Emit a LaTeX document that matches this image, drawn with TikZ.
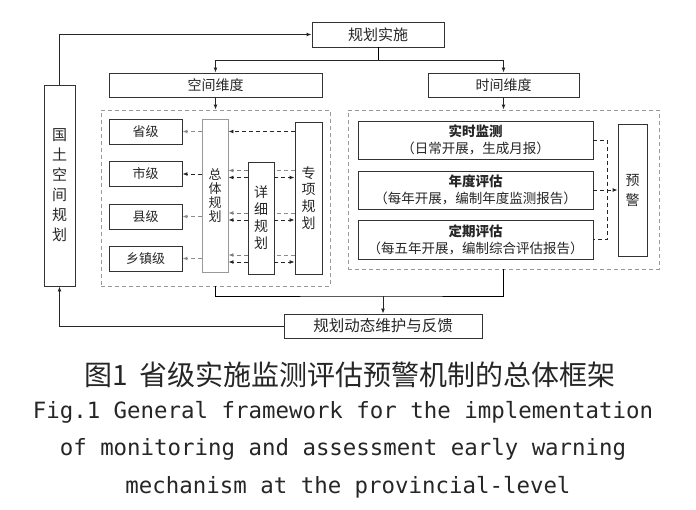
\documentclass[tikz,border=0pt]{standalone}
\usepackage{fontspec}
\newfontfamily\zhfont{Noto Sans CJK SC}
\newfontfamily\enmono{DejaVu Sans Mono}
\usetikzlibrary{arrows.meta,calc}

\begin{document}
\begin{tikzpicture}[x=1pt,y=-1pt,line width=0.9pt,
    plainbox/.style={draw=black!80, fill=white, inner sep=0pt, align=center,
        text=black!85, font=\zhfont\fontsize{14}{16}\selectfont},
    lvbox/.style={plainbox, minimum width=73, minimum height=25, font=\zhfont\fontsize{13}{15}\selectfont},
    tbox/.style={plainbox, minimum width=235, minimum height=38, font=\zhfont\fontsize{13.5}{17}\selectfont},
    dashframe/.style={draw=black!40, dash pattern=on 4pt off 3pt},
    arr/.style={-{Latex[length=5pt,width=4pt]}, draw=black!85},
    darr/.style={arr, dash pattern=on 4pt off 3pt},
    dline/.style={draw=black!85, dash pattern=on 4pt off 3pt},
]
\useasboundingbox (0,0) rectangle (696,509);

% Top and outer boxes
\node[plainbox, minimum width=132, minimum height=25, font=\zhfont\fontsize{15}{17}\selectfont] (impl) at (378,34.5) {规划实施};
\node[plainbox, minimum width=213, minimum height=24] (spatial) at (215.5,85) {空间维度};
\node[plainbox, minimum width=151, minimum height=24] (temporal) at (503.5,85) {时间维度};
\node[plainbox, minimum width=31, minimum height=201, font=\zhfont\fontsize{15}{20}\selectfont] (plan) at (59.5,185.5) {国\\土\\空\\间\\规\\划};
\node[plainbox, minimum width=198, minimum height=24, font=\zhfont\fontsize{15.5}{17}\selectfont] (feedback) at (383,326) {规划动态维护与反馈};

% Dashed frames
\node[dashframe, minimum width=229, minimum height=176] (sframe) at (215.5,198) {};
\node[dashframe, minimum width=311, minimum height=159] (tframe) at (503.5,189.5) {};

% Spatial dimension
\foreach \name/\txt/\yy in {sheng/省级/131.5, shi/市级/174, xian/县级/216.5, xiang/乡镇级/258.5}
    \node[lvbox] (\name) at (145.5,\yy) {\txt};
\node[plainbox, draw=black!40, minimum width=26, minimum height=153, font=\zhfont\fontsize{13}{14}\selectfont] (overall) at (215,195.5) {总\\体\\规\\划};
\node[plainbox, minimum width=26, minimum height=112, font=\zhfont\fontsize{14}{17}\selectfont] (detail) at (261,218) {详\\细\\规\\划};
\node[plainbox, minimum width=27, minimum height=152, font=\zhfont\fontsize{14}{16.7}\selectfont] (special) at (308.5,198) {专\\项\\规\\划};

% Time dimension
\node[tbox] (realtime) at (475.5,140) {\textbf{实时监测}\\（日常开展，生成月报）};
\node[tbox] (annual) at (475.5,190) {\textbf{年度评估}\\（每年开展，编制年度监测报告）};
\node[tbox, minimum height=39] (periodic) at (475.5,239.5) {\textbf{定期评估}\\（每五年开展，编制综合评估报告）};
\node[plainbox, minimum width=29, minimum height=132, font=\zhfont\fontsize{14}{20}\selectfont] (warning) at (632.5,190) {预\\警};

% Main flow
\coordinate (split) at (impl.south |- 0,60);
\coordinate (join) at (feedback.north |- 0,296);
\draw[arr] (plan.north) |- (impl.west);
\draw (impl.south) -- (split);
\draw[arr] (split) -| (spatial.north);
\draw[arr] (split) -| (temporal.north);
\draw[arr] (spatial.south) -- (sframe.north);
\draw[arr] (temporal.south) -- (tframe.north);
\draw (sframe.south) |- (join) -| (tframe.south);
\draw[arr] (join) -- (feedback.north);
\draw[arr] (feedback.west) -| (plan.south);

% Spatial arrows
\draw[darr] (special.west |- sheng.east) -- (overall.east |- sheng.east);
\foreach \name in {sheng,xian,xiang}
    \draw[darr, draw=black!45] (overall.west |- \name.east) -- (\name.east);
\draw[darr] (overall.west |- shi.east) -- (shi.east);
\foreach \name in {shi,xian,xiang} {
    \draw[darr, draw=black!50] ($(detail.west |- \name.east)+(0,-3.5)$) -- ($(overall.east |- \name.east)+(0,-3.5)$);
    \draw[dline, draw=black!45] ($(special.west |- \name.east)+(0,-3.5)$) -- ($(detail.east |- \name.east)+(0,-3.5)$);
    \draw[darr] ($(detail.west |- \name.east)+(0,3.5)$) -- ($(overall.east |- \name.east)+(0,3.5)$);
    \draw[darr] ($(detail.east |- \name.east)+(0,3.5)$) -- ($(special.west |- \name.east)+(0,3.5)$);
}

% Time arrows
\draw[dline] (realtime.east) -- ++(14,0) |- (periodic.east);
\draw[darr] (annual.east) -- (warning.west);

% Caption
\node[font=\zhfont\fontsize{28}{30}\selectfont, text=black!85] (capzh) at (350,375) {图1\hspace{0.4em}省级实施监测评估预警机制的总体框架};
\node[font=\enmono\fontsize{22.4}{24}\selectfont, text=black!85, anchor=base] (capen1) at (343,418) {Fig.1 General framework for the implementation};
\node[font=\enmono\fontsize{22.4}{24}\selectfont, text=black!85, anchor=base] (capen2) at (343,455) {of monitoring and assessment early warning};
\node[font=\enmono\fontsize{22.4}{24}\selectfont, text=black!85, anchor=base] (capen3) at (348,493) {mechanism at the provincial-level};
\end{tikzpicture}
\end{document}
